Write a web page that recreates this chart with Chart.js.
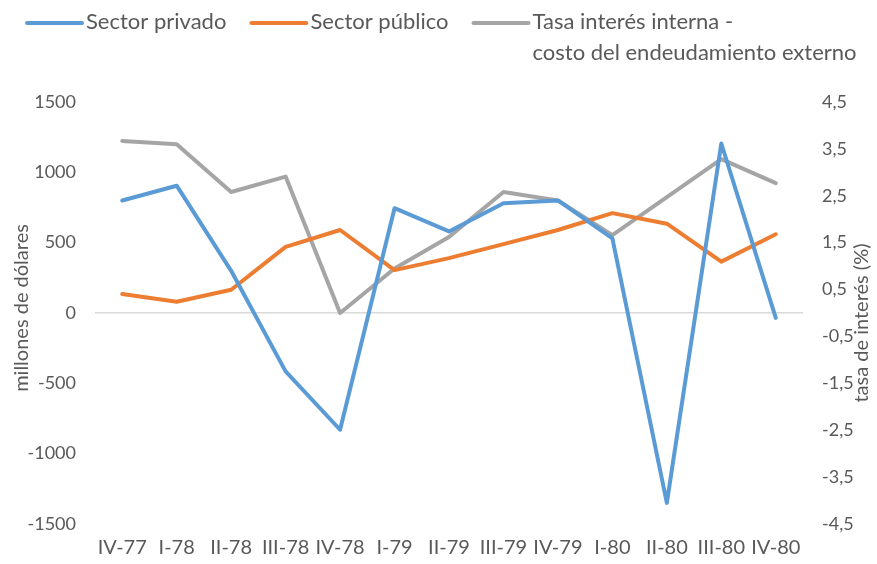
<!DOCTYPE html>
<html>
<head>
<meta charset="utf-8">
<script src="https://cdn.jsdelivr.net/npm/chart.js@4.4.1/dist/chart.umd.min.js"></script>
<style>
  html, body { margin: 0; padding: 0; background: #fff; }
  #wrap { width: 877px; height: 564px; }
</style>
</head>
<body>
<div id="wrap"><canvas id="grafico" width="877" height="564"></canvas></div>
<script>
// Datos
const trimestres = ["IV-77", "I-78", "II-78", "III-78", "IV-78", "I-79", "II-79", "III-79", "IV-79", "I-80", "II-80", "III-80", "IV-80"];
const sectorPrivado = [800, 905, 300, -415, -830, 745, 580, 780, 800, 530, -1350, 1205, -35];
const sectorPublico = [135, 80, 165, 470, 590, 305, 390, 490, 590, 710, 635, 365, 560];
const tasaInteres = [3.67, 3.6, 2.58, 2.91, 0, 0.95, 1.62, 2.58, 2.4, 1.66, 2.47, 3.28, 2.77];

const ticksIzq = [-1500, -1000, -500, 0, 500, 1000, 1500];
const ticksDer = [-4.5, -3.5, -2.5, -1.5, -0.5, 0.5, 1.5, 2.5, 3.5, 4.5];

const gris = "#595959";
const fuente = "Lato, 'Open Sans', sans-serif";

// Leyenda y títulos de ejes dibujados a mano (estilo Excel)
const leyendaPlugin = {
  id: "leyendaExcel",
  afterDraw(chart) {
    const ctx = chart.ctx;
    ctx.save();
    ctx.font = "22px " + fuente;
    ctx.fillStyle = gris;
    ctx.textBaseline = "middle";
    ctx.textAlign = "left";
    let x = 27;
    chart.data.datasets.forEach(function(ds) {
      ctx.strokeStyle = ds.borderColor;
      ctx.lineWidth = 4;
      ctx.lineCap = "round";
      ctx.beginPath();
      ctx.moveTo(x, 23);
      ctx.lineTo(x + 55, 23);
      ctx.stroke();
      const lineas = Array.isArray(ds.label) ? ds.label : [ds.label];
      let ancho = 0;
      lineas.forEach(function(t, i) {
        ctx.fillText(t, x + 59, 22 + i * 31);
        ancho = Math.max(ancho, ctx.measureText(t).width);
      });
      x = x + 59 + ancho + 25;
    });

    // títulos de ejes
    ctx.font = "20px " + fuente;
    ctx.textAlign = "center";
    ctx.translate(22, 308);
    ctx.rotate(-Math.PI / 2);
    ctx.fillText("millones de dólares", 0, 0);
    ctx.restore();

    ctx.save();
    ctx.font = "20px " + fuente;
    ctx.fillStyle = gris;
    ctx.textAlign = "center";
    ctx.textBaseline = "middle";
    ctx.translate(862, 323);
    ctx.rotate(-Math.PI / 2);
    ctx.fillText("tasa de interés (%)", 0, 0);
    ctx.restore();
  }
};

new Chart(document.getElementById("grafico"), {
  type: "line",
  data: {
    labels: trimestres,
    datasets: [{
      label: "Sector privado",
      data: sectorPrivado,
      borderColor: "#5b9bd5",
      yAxisID: "y"
    }, {
      label: "Sector público",
      data: sectorPublico,
      borderColor: "#ed7d31",
      yAxisID: "y"
    }, {
      label: ["Tasa interés interna -", "costo del endeudamiento externo"],
      data: tasaInteres,
      borderColor: "#a5a5a5",
      yAxisID: "y1"
    }]
  },
  options: {
    responsive: false,
    animation: false,
    layout: { padding: { top: 102, left: 0, right: 0, bottom: 0 } },
    elements: {
      line: { borderWidth: 4, tension: 0, borderCapStyle: "round", borderJoinStyle: "round" },
      point: { radius: 0 }
    },
    plugins: {
      legend: { display: false },
      tooltip: { enabled: false }
    },
    scales: {
      x: {
        offset: true,
        grid: { display: false, drawTicks: false },
        border: { display: false },
        ticks: { color: gris, font: { family: fuente, size: 20 }, padding: 12, autoSkip: false, maxRotation: 0 },
        afterFit: function(s) { s.height = 40; }
      },
      y: {
        position: "left",
        min: -1500,
        max: 1500,
        afterBuildTicks: function(s) { s.ticks = ticksIzq.map(v => ({ value: v })); },
        grid: {
          drawTicks: false,
          color: c => (c.tick && c.tick.value === 0) ? "#d9d9d9" : "rgba(0,0,0,0)",
          lineWidth: 1.5
        },
        border: { display: false },
        ticks: {
          color: gris,
          font: { family: fuente, size: 18 },
          padding: 19,
          callback: v => String(v)
        },
        afterFit: function(s) { s.width = 95; }
      },
      y1: {
        position: "right",
        min: -4.5,
        max: 4.5,
        afterBuildTicks: function(s) { s.ticks = ticksDer.map(v => ({ value: v })); },
        grid: { display: false, drawTicks: false },
        border: { display: false },
        ticks: {
          color: gris,
          font: { family: fuente, size: 18 },
          padding: 19,
          callback: v => v.toFixed(1).replace(".", ",")
        },
        afterFit: function(s) { s.width = 74; }
      }
    }
  },
  plugins: [leyendaPlugin]
});
</script>
</body>
</html>
